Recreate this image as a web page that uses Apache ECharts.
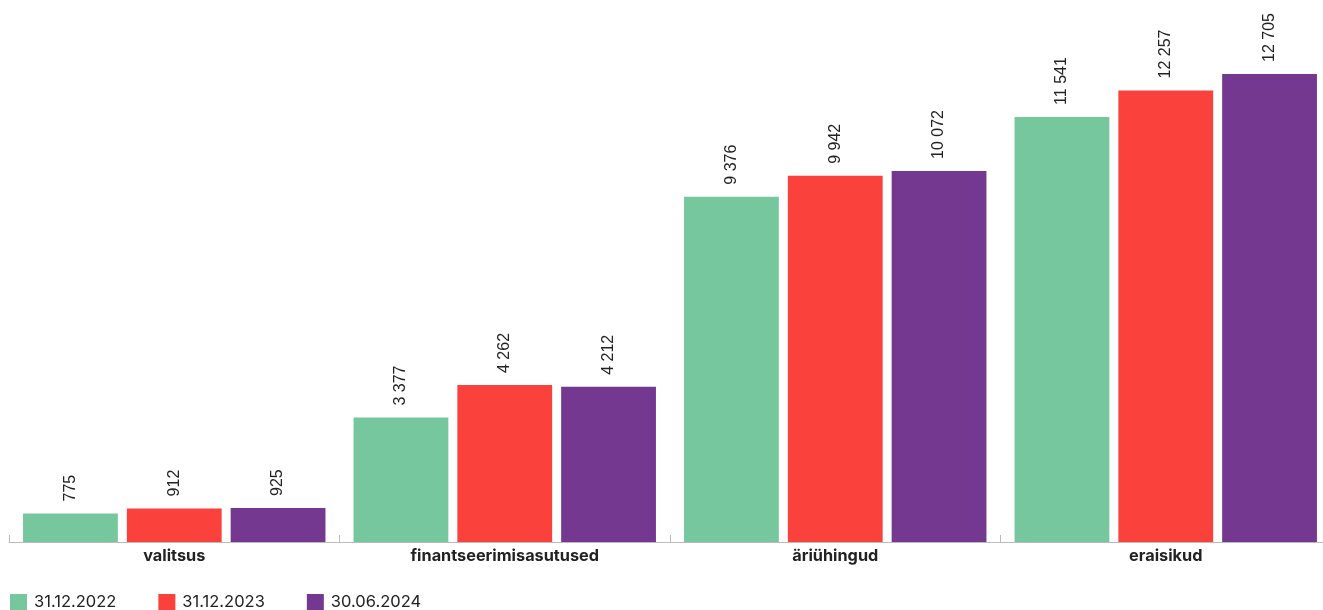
<!DOCTYPE html>
<html><head><meta charset="utf-8">
<script src="https://cdn.jsdelivr.net/npm/echarts@6/dist/echarts.min.js"></script>
<style>html,body{margin:0;padding:0;background:#fff}#c{width:1323px;height:610px}</style>
</head><body><div id="c"></div>
<script>
const categories = ['valitsus', 'finantseerimisasutused', 'äriühingud', 'eraisikud'];
const seriesNames = ['31.12.2022', '31.12.2023', '30.06.2024'];
const s2022 = [775, 3377, 9376, 11541];
const s2023 = [912, 4262, 9942, 12257];
const s2024 = [925, 4212, 10072, 12705];
const colors = ['#76C69E', '#FA413C', '#743891'];

function fmt(v){ return String(v).replace(/\B(?=(\d{3})+(?!\d))/g, ' '); }
const chart = echarts.init(document.getElementById('c'), null, {renderer:'canvas'});
const font = 'Inter, "Noto Sans", sans-serif';
const mk = (name, data, i) => ({
  name, type:'bar', data, barGap:'9.5%', barCategoryGap:'8.5%',
  itemStyle:{color:colors[i]},
  label:{show:true, position:'top', rotate:90, align:'left', verticalAlign:'middle', distance:12,
    formatter:p=>fmt(p.value), color:'#222', fontSize:16, fontFamily:'"Liberation Sans", Arial, sans-serif'},
  animation:false
});
chart.setOption({
  animation:false,
  textStyle:{fontFamily:font},
  grid:{left:9, top:0, width:1322, bottom:68, containLabel:false, outerBoundsMode:'none'},
  legend:{left:5, top:589, itemWidth:17, itemHeight:17, itemGap:42, icon:'rect',
    textStyle:{fontSize:16.5, color:'#222', fontFamily:font, padding:[0,0,0,2]}, data:seriesNames},
  xAxis:{type:'category', data:categories,
    axisLine:{lineStyle:{color:'#bbb', width:1}},
    axisTick:{show:true, inside:true, length:7, lineStyle:{color:'#bbb'}},
    axisLabel:{fontWeight:'bold', fontSize:16.3, color:'#222', margin:6, fontFamily:font}},
  yAxis:{type:'value', min:0, max:14714, show:false, splitLine:{show:false}},
  series:[mk(seriesNames[0], s2022, 0), mk(seriesNames[1], s2023, 1), mk(seriesNames[2], s2024, 2)]
});
</script></body></html>
